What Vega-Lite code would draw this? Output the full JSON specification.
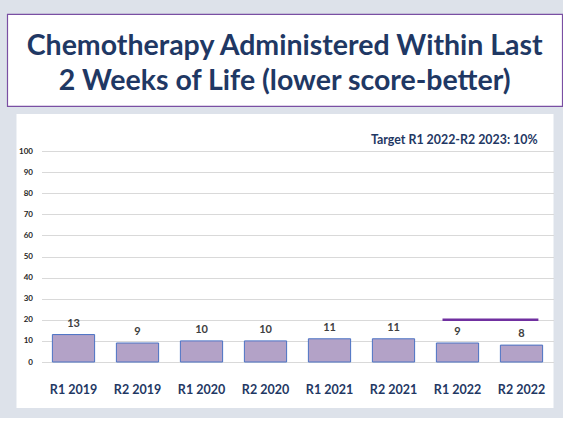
{
  "$schema": "https://vega.github.io/schema/vega-lite/v6.json",
  "background": "#dde2ea",
  "padding": {"top": 13, "left": 6, "right": 2, "bottom": 10},
  "spacing": 7,
  "center": true,
  "config": {"font": "Lato"},
  "datasets": {
    "title": [
      {"row": 1, "line": "Chemotherapy Administered Within Last"},
      {"row": 2, "line": "2 Weeks of Life (lower score-better)"}
    ],
    "bars": [
      {"period": "R1 2019", "value": 13},
      {"period": "R2 2019", "value": 9},
      {"period": "R1 2020", "value": 10},
      {"period": "R2 2020", "value": 10},
      {"period": "R1 2021", "value": 11},
      {"period": "R2 2021", "value": 11},
      {"period": "R1 2022", "value": 9},
      {"period": "R2 2022", "value": 8}
    ],
    "target": [
      {"start": "R1 2022", "end": "R2 2022", "target": 20, "note": "Target R1 2022-R2 2023: 10%"}
    ]
  },
  "vconcat": [
    {
      "width": 555,
      "height": 92,
      "view": {"fill": "white", "stroke": "#7a4fa3", "strokeWidth": 1.2},
      "data": {"name": "title"},
      "mark": {"type": "text", "font": "Lato", "fontWeight": "bold", "fontSize": 28.5, "color": "#1f3864", "baseline": "middle"},
      "encoding": {
        "y": {"field": "row", "type": "quantitative", "axis": null, "scale": {"domain": [1, 2], "range": [32, 67], "zero": false, "nice": false}},
        "text": {"field": "line"}
      }
    },
    {
      "width": 537,
      "height": 294,
      "view": {"fill": "white", "stroke": null},
      "layer": [
        {
          "data": {"name": "bars"},
          "mark": {"type": "bar", "fill": "#b3a2c7", "stroke": "#4a72c4", "strokeWidth": 1},
          "encoding": {
            "x": {
              "field": "period", "type": "nominal", "sort": null, "title": null,
              "scale": {"range": [25, 537], "paddingInner": 0.34, "paddingOuter": 0.17},
              "axis": {"offset": -46, "domain": false, "ticks": false, "grid": false, "labelAngle": 0,
                       "labelFont": "Lato", "labelFontWeight": "bold", "labelFontSize": 12.5,
                       "labelColor": "#1f3864", "labelPadding": 21}
            },
            "y": {
              "field": "value", "type": "quantitative", "title": null,
              "scale": {"domain": [0, 100], "range": [248, 37], "nice": false},
              "axis": {"offset": -25, "values": [0, 10, 20, 30, 40, 50, 60, 70, 80, 90, 100], "tickCount": 20,
                       "domain": false, "ticks": false, "labelPadding": 9, "labelOverlap": false,
                       "labelFont": "Lato", "labelFontWeight": "bold", "labelFontSize": 8,
                       "labelColor": "#262626", "gridColor": "#d9d9d9", "gridWidth": 1}
            }
          }
        },
        {
          "data": {"name": "bars"},
          "mark": {"type": "text", "font": "Lato", "fontWeight": "bold", "fontSize": 11, "color": "#404040", "baseline": "bottom", "dy": -6},
          "encoding": {
            "x": {"field": "period", "type": "nominal", "sort": null},
            "y": {"field": "value", "type": "quantitative"},
            "text": {"field": "value"}
          }
        },
        {
          "data": {"name": "target"},
          "mark": {"type": "rule", "color": "#7030a0", "strokeWidth": 2.5},
          "encoding": {
            "x": {"field": "start", "type": "nominal", "sort": null, "bandPosition": 0.145},
            "x2": {"field": "end", "bandPosition": 0.9},
            "y": {"field": "target", "type": "quantitative"}
          }
        },
        {
          "data": {"name": "target"},
          "mark": {"type": "text", "font": "Lato", "fontWeight": "bold", "fontSize": 12.4, "color": "#1f3864", "align": "right", "baseline": "middle", "dx": -5},
          "encoding": {
            "x": {"field": "end", "type": "nominal", "sort": null, "bandPosition": 1},
            "y": {"datum": 105},
            "text": {"field": "note"}
          }
        }
      ]
    }
  ]
}
